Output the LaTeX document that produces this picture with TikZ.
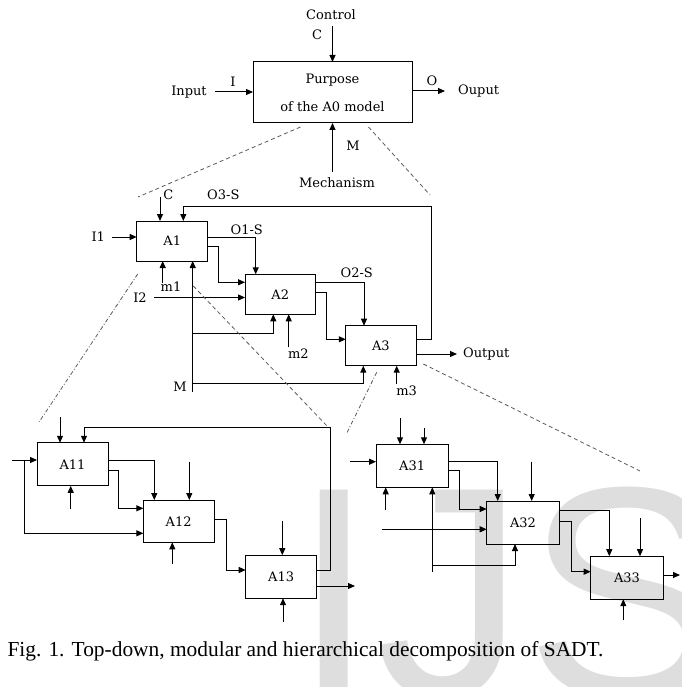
\documentclass[tikz,border=0pt]{standalone}
\usepackage{fontspec}
\setmainfont{Liberation Serif}
\newfontfamily\sadtfont{DejaVu Serif}
\newfontfamily\markfont{Liberation Sans}
\usetikzlibrary{arrows.meta,positioning,calc}
\tikzset{
  sadtbox/.style={rectangle, draw=black, line width=1pt, inner sep=0pt, outer sep=0pt, minimum width=71pt, minimum height=43pt, font=\sadtfont\fontsize{13}{15}\selectfont},
  sadtlbl/.style={inner sep=1pt, font=\sadtfont\fontsize{13}{15}\selectfont},
  flowarrow/.style={-{Triangle[length=7pt,width=6pt]}, line width=1pt},
  zoomline/.style={dash pattern=on 4pt off 3pt, draw=black!65, line width=0.8pt},
  zoomdot/.style={dash pattern=on 4pt off 2pt on 1pt off 2pt, draw=black!65, line width=0.8pt}
}
\begin{document}
\begin{tikzpicture}[x=1pt,y=-1pt]
\useasboundingbox (0,0) rectangle (681,687);
\clip (0,0) rectangle (681,687);
\node[anchor=base west, inner sep=0pt, text=black!13, font=\markfont\fontsize{300}{300}\selectfont] (mark) at (292,696) {IJS};

\node[sadtbox, minimum width=159pt, minimum height=61pt, align=center, font=\sadtfont\fontsize{13}{28}\selectfont] (A0) at (332.5,92.5) {Purpose\\of the A0 model};
\node[sadtlbl] (ctltxt) at (331,15) {Control};
\node[sadtlbl] (ctlC) at (317,35) {C};
\node[sadtlbl] (inptxt) at (189,92) {Input};
\node[sadtlbl] (inpI) at (233,82) {I};
\node[sadtlbl] (outO) at (432,81) {O};
\node[sadtlbl, anchor=west, inner sep=0pt] (outtxt) at (458,91) {Ouput};
\node[sadtlbl] (mechM) at (353,146) {M};
\node[sadtlbl] (mechtxt) at (337,183) {Mechanism};

\node[sadtbox, minimum height=40pt] (A1) at (172.2,241) {A1};
\node[sadtbox, minimum width=70.3pt, minimum height=40pt] (A2) at (280.2,294.3) {A2};
\node[sadtbox, minimum width=70.3pt, minimum height=40pt] (A3) at (380.9,345.7) {A3};
\node[sadtlbl] (lblC) at (168.3,195) {C};
\node[sadtlbl] (lblO3) at (223.3,195) {O3-S};
\node[sadtlbl] (lblI1) at (98.3,237) {I1};
\node[sadtlbl] (lblO1) at (246.7,230) {O1-S};
\node[sadtlbl] (lblm1) at (171,287) {m1};
\node[sadtlbl] (lblI2) at (140,297.5) {I2};
\node[sadtlbl] (lblO2) at (356.7,272.7) {O2-S};
\node[sadtlbl] (lblm2) at (298.3,353.3) {m2};
\node[sadtlbl] (lblM) at (180,386.7) {M};
\node[sadtlbl] (lblm3) at (406.7,390.7) {m3};
\node[sadtlbl, anchor=west, inner sep=0pt] (out3) at (463,354) {Output};

\node[sadtbox] (A11) at (72.5,464.3) {A11};
\node[sadtbox, minimum width=70.7pt, minimum height=42.3pt] (A12) at (178.7,521.2) {A12};
\node[sadtbox] (A13) at (281.2,576.7) {A13};
\node[sadtbox, minimum width=72.3pt] (A31) at (412.2,465.8) {A31};
\node[sadtbox, minimum width=72.6pt] (A32) at (523,522.5) {A32};
\node[sadtbox, minimum width=72.6pt] (A33) at (627,577.7) {A33};

\node[anchor=base west, inner sep=0pt, font=\fontsize{21.4}{24}\selectfont] (caption) at (7.3,656) {Fig. 1. Top-down, modular and hierarchical decomposition of SADT.};

\coordinate (zA1w) at (138,197);
\coordinate (zA1e) at (430,195);
\coordinate (zA11w) at (39.3,421.7);
\coordinate (zA11e) at (328.3,427.3);
\coordinate (zA31w) at (346.7,433.3);
\coordinate (zA31e) at (640,471);
\coordinate (cA1) at (160,197);
\coordinate (m1pt) at (162.7,283);
\coordinate (Mpt) at (192.7,391.7);
\coordinate (m2pt) at (288.7,347);
\coordinate (m3pt) at (396.7,384);
\coordinate (A11c) at (60,417);
\coordinate (A11in) at (11.7,460);
\coordinate (A11m) at (70.7,509.3);
\coordinate (A12c) at (189.3,461.7);
\coordinate (A12m) at (172.3,564);
\coordinate (A13c) at (282.3,521);
\coordinate (A13m) at (283,622);
\coordinate (A13o) at (355,586);
\coordinate (A31c1) at (400,418.3);
\coordinate (A31c2) at (424,428.3);
\coordinate (A31in) at (350,461.7);
\coordinate (A31m) at (385.7,510);
\coordinate (A31mm) at (432.3,571.7);
\coordinate (A32in) at (381.7,529.3);
\coordinate (A32c) at (531.7,461.7);
\coordinate (A33c) at (640,518.3);
\coordinate (A33m) at (623.3,620);
\coordinate (A33o) at (680,575);

\draw[flowarrow, shorten <=5pt] (A0.north |- ctltxt.south) -- (A0.north);
\draw[flowarrow, shorten <=7pt] (inptxt) -- (A0.west |- inptxt);
\draw[flowarrow, shorten >=13pt] (A0.east |- outtxt) -- (outtxt.west);
\draw[flowarrow, shorten <=5pt] (A0.south |- mechtxt.north) -- (A0.south);
\draw[zoomline] ($(A0.south)+(-32,4)$) -- (zA1w);
\draw[zoomline] ($(A0.south)+(36,4)$) -- (zA1e);

\draw[flowarrow] (cA1) -- (cA1 |- A1.north);
\draw[flowarrow] (A3.east |- 0,339.3) -| (431.7,206.7) -| (A1.north -| 183.3,0);
\draw[flowarrow, shorten <=6pt] (lblI1) -- (A1.west |- lblI1);
\draw[flowarrow] (A1.east |- 0,237.3) -| (A2.north -| 255.7,0);
\draw[flowarrow] (A1.east |- 0,246) -| (218.7,282.3) -- (A2.west |- 0,282.3);
\draw[flowarrow, shorten <=6pt] (lblI2) -- (A2.west |- lblI2);
\draw[flowarrow] (m1pt) -- (m1pt |- A1.south);
\draw[flowarrow] (Mpt) -- (Mpt |- A1.south);
\draw[flowarrow] (Mpt |- 0,333.3) -| (A2.south -| 273.3,0);
\draw[flowarrow] (Mpt |- 0,383.3) -| (A3.south -| 363.3,0);
\draw[flowarrow] (m2pt) -- (m2pt |- A2.south);
\draw[flowarrow] (A2.east |- 0,282.3) -| (A3.north -| 364,0);
\draw[flowarrow] (A2.east |- 0,292.3) -| (326.7,339.3) -- (A3.west |- 0,339.3);
\draw[flowarrow, shorten >=6pt] (A3.east |- out3) -- (out3.west);
\draw[flowarrow] (m3pt) -- (m3pt |- A3.south);
\draw[zoomdot] ($(A1.south west)+(1,13)$) -- (zA11w);
\draw[zoomline] ($(A1.south east)+(-14.4,25)$) -- (zA11e);
\draw[zoomdot] ($(A3.south)+(-4.2,6.6)$) -- (zA31w);
\draw[zoomline] ($(A3.south east)+(7.3,-1.7)$) -- (zA31e);

\draw[flowarrow] (A11c) -- (A11c |- A11.north);
\draw[flowarrow] (A13.east |- 0,570) -| (330,427.7) -| (A11.north -| 84,0);
\draw[flowarrow] (A11in) -- (A11in -| A11.west);
\draw[flowarrow] (A11in -| 24.3,0) |- (A12.west |- 0,533.3);
\draw[flowarrow] (A11.east |- 0,460) -| (A12.north -| 154.3,0);
\draw[flowarrow] (A11.east |- 0,470) -| (118.3,508.3) -- (A12.west |- 0,508.3);
\draw[flowarrow] (A11m) -- (A11m |- A11.south);
\draw[flowarrow] (A12c) -- (A12c |- A12.north);
\draw[flowarrow] (A12m) -- (A12m |- A12.south);
\draw[flowarrow] (A12.east |- 0,519.3) -| (226.7,570) -- (A13.west |- 0,570);
\draw[flowarrow] (A13c) -- (A13c |- A13.north);
\draw[flowarrow] (A13.east |- A13o) -- (A13o);
\draw[flowarrow] (A13m) -- (A13m |- A13.south);

\draw[flowarrow] (A31c1) -- (A31c1 |- A31.north);
\draw[flowarrow] (A31c2) -- (A31c2 |- A31.north);
\draw[flowarrow] (A31in) -- (A31in -| A31.west);
\draw[flowarrow] (A31m) -- (A31m |- A31.south);
\draw[flowarrow] (A31mm) -- (A31mm |- A31.south);
\draw[flowarrow] (A31mm |- 0,565) -| (A32.south -| 515,0);
\draw[flowarrow] (A31.east |- 0,461.7) -| (A32.north -| 497.7,0);
\draw[flowarrow] (A31.east |- 0,470.7) -| (459.3,509) -- (A32.west |- 0,509);
\draw[flowarrow] (A32in) -- (A32in -| A32.west);
\draw[flowarrow] (A32c) -- (A32c |- A32.north);
\draw[flowarrow] (A32.east |- 0,510) -| (A33.north -| 609.3,0);
\draw[flowarrow] (A32.east |- 0,521) -| (571,571.7) -- (A33.west |- 0,571.7);
\draw[flowarrow] (A33c) -- (A33c |- A33.north);
\draw[flowarrow] (A33.east |- A33o) -- (A33o);
\draw[flowarrow] (A33m) -- (A33m |- A33.south);
\end{tikzpicture}
\end{document}
